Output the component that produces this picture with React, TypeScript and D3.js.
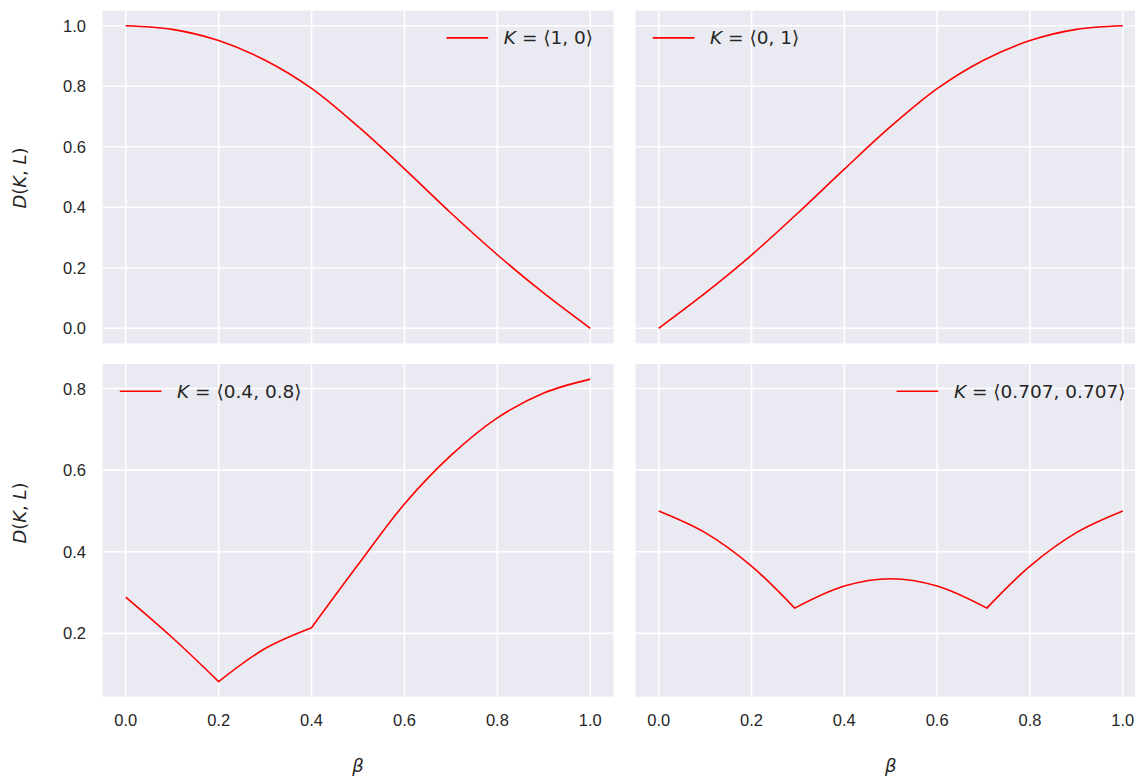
import React, { useEffect, useRef } from "react";
import * as d3 from "d3";

// ---- data ----
const betaTicks = [0, 0.2, 0.4, 0.6, 0.8, 1.0];
const topYTicks = [0, 0.2, 0.4, 0.6, 0.8, 1.0];
const bottomYTicks = [0.2, 0.4, 0.6, 0.8];

const betaK10 = [0, 0.1, 0.2, 0.3, 0.4, 0.5, 0.6, 0.7, 0.8, 0.9, 1.0];
const dK10 = [1.0, 0.988, 0.951, 0.886, 0.793, 0.667, 0.527, 0.381, 0.243, 0.116, 0.0];

const betaK01 = [0, 0.1, 0.2, 0.3, 0.4, 0.5, 0.6, 0.7, 0.8, 0.9, 1.0];
const dK01 = [0.0, 0.116, 0.242, 0.381, 0.526, 0.667, 0.792, 0.886, 0.951, 0.988, 1.0];

const betaK0408 = [0, 0.1, 0.2, 0.3, 0.4, 0.5, 0.6, 0.7, 0.8, 0.9, 1.0];
const dK0408 = [0.289, 0.19, 0.082, 0.163, 0.214, 0.368, 0.517, 0.636, 0.728, 0.789, 0.823];
const kinksK0408 = [0.2, 0.4];

const betaK0707 = [0, 0.1, 0.2, 0.293, 0.4, 0.5, 0.6, 0.707, 0.8, 0.9, 1.0];
const dK0707 = [0.5, 0.447, 0.365, 0.262, 0.316, 0.334, 0.316, 0.262, 0.365, 0.447, 0.5];
const kinksK0707 = [0.293, 0.707];

const legendK = ["⟨1, 0⟩", "⟨0, 1⟩", "⟨0.4, 0.8⟩", "⟨0.707, 0.707⟩"];

const W = 1135;
const H = 776;
const colX = [
  [102.5, 613.5],
  [635.5, 1146],
];
const rowY = [
  [10.6, 343.4],
  [364, 696.7],
];
const BG = "#EAEAF2";
const RED = "#ff0000";
const TICK_FONT = "'Liberation Sans', Arial, sans-serif";
const MATH_FONT = "'DejaVu Sans', sans-serif";

function paddedExtent(vals: number[]): [number, number] {
  const [lo, hi] = d3.extent(vals) as [number, number];
  const m = (hi - lo) * 0.05;
  return [lo - m, hi + m];
}

export default function App() {
  const ref = useRef<SVGSVGElement | null>(null);

  useEffect(() => {
    const svg = d3.select(ref.current!);
    svg.selectAll("*").remove();

    const topDomain = paddedExtent([...dK10, ...dK01]);
    const botDomain = paddedExtent([...dK0408, ...dK0707]);

    const panels = [
      { row: 0, col: 0, xs: betaK10, ys: dK10, kinks: [] as number[], legend: "right", label: legendK[0] },
      { row: 0, col: 1, xs: betaK01, ys: dK01, kinks: [] as number[], legend: "left", label: legendK[1] },
      { row: 1, col: 0, xs: betaK0408, ys: dK0408, kinks: kinksK0408, legend: "left", label: legendK[2] },
      { row: 1, col: 1, xs: betaK0707, ys: dK0707, kinks: kinksK0707, legend: "right", label: legendK[3] },
    ];

    panels.forEach((p) => {
      const [x0, x1] = colX[p.col];
      const [y0, y1] = rowY[p.row];
      const x = d3.scaleLinear().domain([-0.05, 1.05]).range([x0, x1]);
      const y = d3
        .scaleLinear()
        .domain(p.row === 0 ? topDomain : botDomain)
        .range([y1, y0]);
      const yTicks = p.row === 0 ? topYTicks : bottomYTicks;

      const g = svg.append("g");
      g.append("rect")
        .attr("x", x0)
        .attr("y", y0)
        .attr("width", x1 - x0)
        .attr("height", y1 - y0)
        .attr("fill", BG);

      g.selectAll("line.vg")
        .data(betaTicks)
        .join("line")
        .attr("x1", (d) => x(d))
        .attr("x2", (d) => x(d))
        .attr("y1", y0)
        .attr("y2", y1)
        .attr("stroke", "#fff")
        .attr("stroke-width", 1.6);
      g.selectAll("line.hg")
        .data(yTicks)
        .join("line")
        .attr("x1", x0)
        .attr("x2", x1)
        .attr("y1", (d) => y(d))
        .attr("y2", (d) => y(d))
        .attr("stroke", "#fff")
        .attr("stroke-width", 1.6);

      // curve split at kinks
      const pts = p.xs.map((b, i) => [b, p.ys[i]] as [number, number]);
      const pieces: [number, number][][] = [];
      let cur: [number, number][] = [];
      pts.forEach((pt) => {
        cur.push(pt);
        if (p.kinks.some((k) => Math.abs(k - pt[0]) < 1e-9)) {
          pieces.push(cur);
          cur = [pt];
        }
      });
      if (cur.length > 1) pieces.push(cur);
      const line = d3
        .line<[number, number]>()
        .x((d) => x(d[0]))
        .y((d) => y(d[1]))
        .curve(d3.curveCatmullRom.alpha(0.5));
      const dStr = pieces
        .map((pc, i) => {
          const s = line(pc) || "";
          return i === 0 ? s : "L" + s.slice(1);
        })
        .join("");
      g.append("path")
        .attr("d", dStr)
        .attr("fill", "none")
        .attr("stroke", RED)
        .attr("stroke-width", 1.6)
        .attr("stroke-linejoin", "round");

      // y tick labels on left column
      if (p.col === 0) {
        g.selectAll("text.yt")
          .data(yTicks)
          .join("text")
          .attr("x", 86)
          .attr("y", (d) => y(d) + 6)
          .attr("text-anchor", "end")
          .attr("font-family", TICK_FONT)
          .attr("font-size", 16.5)
          .attr("fill", "#262626")
          .text((d) => d3.format(".1f")(d));
      }
      // x tick labels on bottom row
      if (p.row === 1) {
        g.selectAll("text.xt")
          .data(betaTicks)
          .join("text")
          .attr("x", (d) => x(d))
          .attr("y", 726)
          .attr("text-anchor", "middle")
          .attr("font-family", TICK_FONT)
          .attr("font-size", 16.5)
          .attr("fill", "#262626")
          .text((d) => d3.format(".1f")(d));
        g.append("text")
          .attr("x", (x0 + x1) / 2)
          .attr("y", 772)
          .attr("text-anchor", "middle")
          .attr("font-family", MATH_FONT)
          .attr("font-style", "italic")
          .attr("font-size", 18)
          .attr("fill", "#262626")
          .text("β");
      }

      // legend
      const ly = y0 + 27.3;
      const t = g
        .append("text")
        .attr("y", ly + 6.5)
        .attr("font-family", MATH_FONT)
        .attr("font-size", 18.5)
        .attr("fill", "#262626");
      t.append("tspan").attr("font-style", "italic").text("K");
      t.append("tspan").text(" = " + p.label);
      const tw = (t.node() as SVGTextElement).getComputedTextLength();
      let tx: number;
      if (p.legend === "left") {
        tx = x0 + 17.3 + 41.6 + 15.7;
      } else {
        tx = x1 - 20.5 - tw;
      }
      t.attr("x", tx);
      g.append("line")
        .attr("x1", tx - 15.7 - 41.6)
        .attr("x2", tx - 15.7)
        .attr("y1", ly)
        .attr("y2", ly)
        .attr("stroke", RED)
        .attr("stroke-width", 1.6);
    });

    // y labels
    [178, 513].forEach((cy) => {
      const t = svg
        .append("text")
        .attr("transform", `translate(26,${cy}) rotate(-90)`)
        .attr("text-anchor", "middle")
        .attr("font-family", MATH_FONT)
        .attr("font-size", 18)
        .attr("fill", "#262626");
      t.append("tspan").attr("font-style", "italic").text("D");
      t.append("tspan").text("(");
      t.append("tspan").attr("font-style", "italic").text("K");
      t.append("tspan").text(", ");
      t.append("tspan").attr("font-style", "italic").text("L");
      t.append("tspan").text(")");
    });
  }, []);

  return (
    <svg
      ref={ref}
      width={W}
      height={H}
      style={{ position: "absolute", left: 0, top: 0, background: "#fff" }}
    />
  );
}
